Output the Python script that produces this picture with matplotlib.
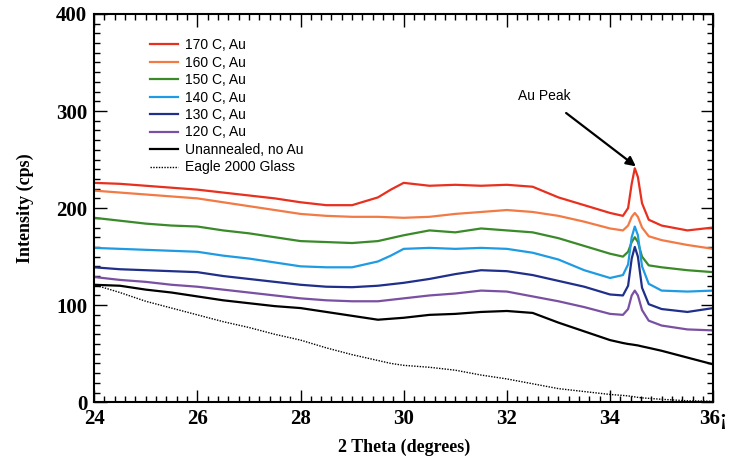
import matplotlib
matplotlib.use("Agg")
import matplotlib.pyplot as plt
from matplotlib.ticker import MultipleLocator
from matplotlib.font_manager import FontProperties

# 2-theta scan positions (degrees)
two_theta = [24, 24.5, 25, 25.5, 26, 26.5, 27, 27.5, 28, 28.5, 29, 29.5, 29.75, 30,
             30.5, 31, 31.5, 32, 32.5, 33, 33.5, 34, 34.25, 34.35, 34.42, 34.48,
             34.54, 34.62, 34.75, 35, 35.5, 36]

# intensities (cps) for each sample
au_170 = [226, 225, 223, 221, 219, 216, 213, 210, 206, 203, 203, 211, 219, 226,
          223, 224, 223, 224, 222, 211, 203, 195, 192, 200, 225, 241,
          232, 205, 188, 182, 177, 180]
au_160 = [218, 216, 214, 212, 210, 206, 202, 198, 194, 192, 191, 191, 190.5, 190,
          191, 194, 196, 198, 196, 192, 186, 179, 177, 182, 191, 195,
          191, 180, 171, 167, 162, 158]
au_150 = [190, 187, 184, 182, 181, 177, 174, 170, 166, 165, 164, 166, 169, 172,
          177, 175, 179, 177, 175, 169, 161, 153, 150, 155, 165, 170,
          165, 150, 141, 139, 136, 134]
au_140 = [159, 158, 157, 156, 155, 151, 148, 144, 140, 139, 139, 145, 151, 158,
          159, 158, 159, 158, 154, 147, 136, 128, 131, 142, 170, 181,
          172, 140, 122, 115, 114, 115]
au_130 = [139, 137, 136, 135, 134, 130, 127, 124, 121, 119, 118.5, 120, 121.5, 123,
          127, 132, 136, 135, 131, 125, 119, 111, 110, 120, 148, 160,
          150, 118, 101, 96, 93, 97]
au_120 = [129, 126, 124, 121, 119, 116, 113, 110, 107, 105, 104, 104, 105.5, 107,
          110, 112, 115, 114, 109, 104, 98, 91, 90, 96, 110, 115,
          110, 95, 84, 79, 75, 74]
unannealed = [121, 120, 116, 113, 109, 105, 102, 99, 97, 93, 89, 85, 86, 87,
              90, 91, 93, 94, 92, 82, 73, 64, 61, 60, 59.5, 59,
              58.5, 57.5, 56, 53, 46, 39]
glass = [121, 113, 104, 97, 90, 83, 77, 70, 64, 56, 49, 43, 40, 38,
         36, 33, 28, 24, 19, 14, 11, 8, 7, 6.5, 6, 5.5,
         5, 4.5, 4, 3, 1.5, 1]

labels = ["170 C, Au", "160 C, Au", "150 C, Au", "140 C, Au", "130 C, Au",
          "120 C, Au", "Unannealed, no Au", "Eagle 2000 Glass"]
colors = ["#e8301e", "#f27a45", "#3a8a2a", "#1e9be3", "#1f2f8a", "#7a50a2",
          "black", "black"]
x_ticklabels = ["24", "26", "28", "30", "32", "34", "36\u00a1"]

fig = plt.figure(figsize=(7.3, 4.65), dpi=100)
ax = fig.add_axes([0.129, 0.135, 0.848, 0.835])

series = [au_170, au_160, au_150, au_140, au_130, au_120, unannealed]
for vals, lab, col in zip(series, labels[:-1], colors[:-1]):
    ax.plot(two_theta, vals, color=col, lw=1.6, label=lab)
ax.plot(two_theta, glass, color=colors[-1], lw=1.0, ls=(0, (1, 1)), label=labels[-1])

ax.set_xlim(24, 36)
ax.set_ylim(0, 400)
ax.xaxis.set_minor_locator(MultipleLocator(0.2))
ax.yaxis.set_major_locator(MultipleLocator(100))
ax.yaxis.set_minor_locator(MultipleLocator(10))
ax.set_xticks(range(24, 37, 2))
ax.set_xticklabels(x_ticklabels)

tick_font = FontProperties(family="Liberation Serif", weight="bold", size=15)
for lbl in ax.get_xticklabels() + ax.get_yticklabels():
    lbl.set_fontproperties(tick_font)

ax.tick_params(which="both", direction="in", top=True, right=True, width=1.0)
ax.tick_params(which="major", length=9, pad=5)
ax.tick_params(which="minor", length=4)
for sp in ax.spines.values():
    sp.set_linewidth(1.5)

ax.set_xlabel("2 Theta (degrees)", family="Liberation Serif", weight="bold",
              size=13, labelpad=7)
ax.set_ylabel("Intensity (cps)", family="Liberation Serif", weight="bold",
              size=13, labelpad=16)

ax.legend(loc="upper left", bbox_to_anchor=(0.07, 0.97), frameon=False,
          prop=dict(family="Liberation Sans", size=10), handlelength=2.0,
          handletextpad=0.5, labelspacing=0.25)

ax.annotate("Au Peak", xy=(34.5, 243), xytext=(32.73, 315),
            ha="center", va="center", family="Liberation Sans", size=10,
            arrowprops=dict(arrowstyle="-|>", color="black", lw=1.6,
                            mutation_scale=14, shrinkA=8, shrinkB=0))

fig.savefig("out.png", dpi=100)
